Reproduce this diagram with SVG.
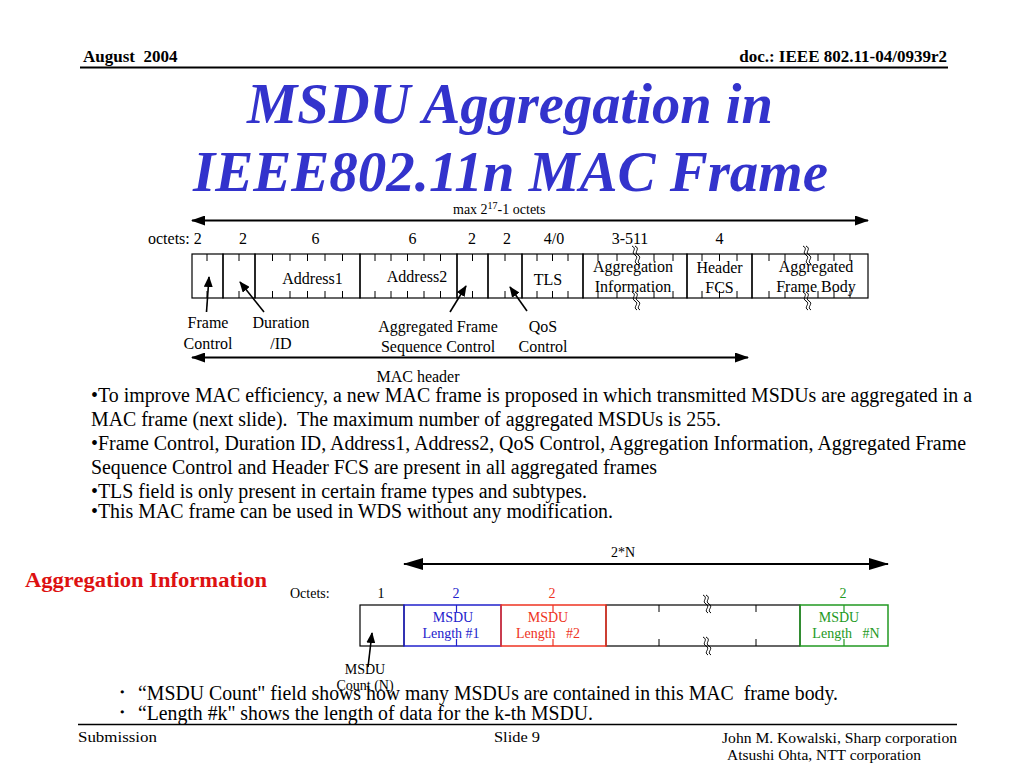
<svg xmlns="http://www.w3.org/2000/svg" xmlns:xlink="http://www.w3.org/1999/xlink" width="1024" height="768" viewBox="0 0 1024 768">
<style>
text{font-family:"Liberation Serif","Times New Roman",serif;fill:#000}
.hdr{font-size:17px;font-weight:bold}
.title{font-size:57px;font-weight:bold;font-style:italic;fill:#3333CC}
.body{font-size:20px}
.lbl{font-size:16px}
.sm{font-size:14px}
.foot{font-size:14px}
.mid{text-anchor:middle}
.box{fill:none;stroke:#000;stroke-width:1.2}
.tick{stroke:#000;stroke-width:1}
.conn{stroke:#000;stroke-width:2;fill:none}
.conn1{stroke:#000;stroke-width:1.6;fill:none}
.blue{fill:#2222CC}
.red{fill:#EE3322}
.green{fill:#229922}
.brk{fill:none;stroke:#000;stroke-width:1}
</style>
<defs>
<marker id="ah" markerWidth="14" markerHeight="10" refX="13" refY="5" orient="auto-start-reverse" markerUnits="userSpaceOnUse">
<path d="M0,0 L14,5 L0,10 Z" fill="#000"/>
</marker>
<marker id="ahs" markerWidth="11" markerHeight="9" refX="10" refY="4.5" orient="auto" markerUnits="userSpaceOnUse">
<path d="M0,0 L11,4.5 L0,9 Z" fill="#000"/>
</marker>
<marker id="ahb" markerWidth="20" markerHeight="12" refX="19" refY="6" orient="auto-start-reverse" markerUnits="userSpaceOnUse">
<path d="M0,0 L20,6 L0,12 Z" fill="#000"/>
</marker>
<g id="brk">
<path class="brk" d="M-3,-9 C3,-6 -5,-3 0,0 C5,3 -3,6 2,9"/>
<path class="brk" d="M0,-9 C6,-6 -2,-3 3,0 C8,3 0,6 5,9"/>
</g>
</defs>

<g id="header">
<text class="hdr" x="83" y="62" xml:space="preserve">August  2004</text>
<text class="hdr" x="947" y="62" text-anchor="end">doc.: IEEE 802.11-04/0939r2</text>
<line x1="80" y1="67.5" x2="948" y2="67.5" stroke="#000" stroke-width="2"/>
</g>

<g id="title">
<text class="title" x="247" y="123" textLength="526" lengthAdjust="spacingAndGlyphs">MSDU Aggregation in</text>
<text class="title" x="193" y="191" textLength="635" lengthAdjust="spacingAndGlyphs">IEEE802.11n MAC Frame</text>
</g>

<g id="connectors">
<line class="conn" x1="192" y1="220.5" x2="868" y2="220.5" marker-start="url(#ah)" marker-end="url(#ah)"/>
<line class="conn" x1="192" y1="357.5" x2="748" y2="357.5" marker-start="url(#ah)" marker-end="url(#ah)"/>
<line class="conn1" x1="206.5" y1="312" x2="209" y2="277" marker-end="url(#ahs)"/>
<line class="conn1" x1="264" y1="312" x2="240" y2="282" marker-end="url(#ahs)"/>
<line class="conn1" x1="450" y1="312" x2="466" y2="286" marker-end="url(#ahs)"/>
<line class="conn1" x1="527" y1="311" x2="510" y2="287" marker-end="url(#ahs)"/>
<line class="conn" x1="404" y1="564" x2="888" y2="564" marker-start="url(#ahb)" marker-end="url(#ahb)"/>
<line class="conn1" x1="368" y1="667" x2="372" y2="633" marker-end="url(#ahs)"/>
</g>

<g id="frame-labels">
<text class="sm" x="453" y="214">max 2<tspan font-size="10" dy="-5">17</tspan><tspan dy="5">-1 octets</tspan></text>
<text class="lbl" x="148" y="244">octets: 2</text>
<text class="lbl mid" x="243" y="244">2</text>
<text class="lbl mid" x="315.5" y="244">6</text>
<text class="lbl mid" x="412.5" y="244">6</text>
<text class="lbl mid" x="472" y="244">2</text>
<text class="lbl mid" x="507" y="244">2</text>
<text class="lbl mid" x="554" y="244">4/0</text>
<text class="lbl mid" x="630" y="244">3-511</text>
<text class="lbl mid" x="719.5" y="244">4</text>
</g>

<g id="node-frame-control"><rect class="box" x="192" y="254" width="31" height="44"/></g>
<g id="node-duration"><rect class="box" x="223" y="254" width="32" height="44"/></g>
<g id="node-address1"><rect class="box" x="255" y="254" width="105" height="44"/>
<text class="lbl mid" x="312.5" y="284">Address1</text></g>
<g id="node-address2"><rect class="box" x="360" y="254" width="97" height="44"/>
<text class="lbl mid" x="417" y="282">Address2</text></g>
<g id="node-afsc"><rect class="box" x="457" y="254" width="31" height="44"/></g>
<g id="node-qos"><rect class="box" x="488" y="254" width="34" height="44"/></g>
<g id="node-tls"><rect class="box" x="522" y="254" width="61" height="44"/>
<text class="lbl mid" x="548" y="285">TLS</text></g>
<g id="node-agginfo"><rect class="box" x="583" y="254" width="104" height="44"/>
<text class="lbl mid" x="633" y="272">Aggregation</text>
<text class="lbl mid" x="633" y="292">Information</text></g>
<g id="node-hfcs"><rect class="box" x="687" y="254" width="65" height="44"/>
<text class="lbl mid" x="719.5" y="273">Header</text>
<text class="lbl mid" x="719.5" y="293">FCS</text></g>
<g id="node-body"><rect class="box" x="752" y="254" width="116" height="44"/>
<text class="lbl mid" x="816" y="272">Aggregated</text>
<text class="lbl mid" x="816" y="292">Frame Body</text></g>

<g id="frame-ticks">
<path class="tick" d="M207,254v7M207,298v-7M239,254v7M239,298v-7
M272.5,254v7M272.5,298v-7M290,254v7M290,298v-7M307.5,254v7M307.5,298v-7M325,254v7M325,298v-7M342.5,254v7M342.5,298v-7
M375,254v7M375,298v-7M391,254v7M391,298v-7M407.5,254v7M407.5,298v-7M424,254v7M424,298v-7M440.5,254v7M440.5,298v-7
M472.5,254v7M472.5,298v-7M505,254v7M505,298v-7
M537,254v7M537,298v-7M552.5,254v7M552.5,298v-7M568,254v7M568,298v-7
M598,254v7M598,298v-7M617,254v7M617,298v-7M654,254v7M654,298v-7M673,254v7M673,298v-7
M702,254v7M702,298v-7M719.5,254v7M719.5,298v-7M737,254v7M737,298v-7
M769,254v7M769,298v-7M785,254v7M785,298v-7M818,254v7M818,298v-7M834,254v7M834,298v-7M850,254v7M850,298v-7"/>
<use xlink:href="#brk" href="#brk" x="635" y="255"/>
<use xlink:href="#brk" href="#brk" x="635" y="301"/>
<use xlink:href="#brk" href="#brk" x="806" y="255"/>
<use xlink:href="#brk" href="#brk" x="806" y="301"/>
</g>

<g id="field-captions">
<text class="lbl mid" x="208" y="328">Frame</text>
<text class="lbl mid" x="208" y="349">Control</text>
<text class="lbl mid" x="281" y="328">Duration</text>
<text class="lbl mid" x="281" y="349">/ID</text>
<text class="lbl mid" x="438" y="332">Aggregated Frame</text>
<text class="lbl mid" x="438" y="352">Sequence Control</text>
<text class="lbl mid" x="543" y="332">QoS</text>
<text class="lbl mid" x="543" y="352">Control</text>
<text class="lbl mid" x="418" y="382">MAC header</text>
</g>

<g id="body-text">
<text class="body" x="91" y="402" textLength="881" lengthAdjust="spacingAndGlyphs">•To improve MAC efficiency, a new MAC frame is proposed in which transmitted MSDUs are aggregated in a</text>
<text class="body" x="91" y="426" textLength="630" lengthAdjust="spacingAndGlyphs" xml:space="preserve">MAC frame (next slide).  The maximum number of aggregated MSDUs is 255.</text>
<text class="body" x="91" y="450" textLength="875" lengthAdjust="spacingAndGlyphs">•Frame Control, Duration ID, Address1, Address2, QoS Control, Aggregation Information, Aggregated Frame</text>
<text class="body" x="91" y="474" textLength="566" lengthAdjust="spacingAndGlyphs">Sequence Control and Header FCS are present in all aggregated frames</text>
<text class="body" x="91" y="498" textLength="496" lengthAdjust="spacingAndGlyphs">•TLS field is only present in certain frame types and subtypes.</text>
<text class="body" x="91" y="518" textLength="522" lengthAdjust="spacingAndGlyphs">•This MAC frame can be used in WDS without any modification.</text>
</g>

<g id="agg-title">
<text x="25" y="587" font-size="20" font-weight="bold" style="fill:#DD1111" textLength="242" lengthAdjust="spacingAndGlyphs">Aggregation Information</text>
</g>
<g id="agg-labels">
<text class="sm mid" x="623" y="557">2*N</text>
<text class="sm" x="290" y="598">Octets:</text>
<text class="sm mid" x="381" y="598">1</text>
<text class="sm mid blue" x="456" y="598">2</text>
<text class="sm mid red" x="552" y="598">2</text>
<text class="sm mid green" x="843" y="598">2</text>
</g>
<g id="node-msdu-count">
<rect class="box" x="360" y="605" width="44" height="41"/>
<text class="sm mid" x="365" y="674">MSDU</text>
<text class="sm mid" x="365" y="690">Count (N)</text>
</g>
<g id="node-middle">
<rect class="box" x="606" y="605" width="194" height="41"/>
<path class="tick" d="M659,605v7M659,646v-7M756,605v7M756,646v-7"/>
<use xlink:href="#brk" href="#brk" x="706" y="604"/>
<use xlink:href="#brk" href="#brk" x="706" y="646"/>
</g>
<g id="node-len1">
<rect x="404" y="605" width="97" height="41" fill="none" stroke="#2222CC" stroke-width="1.5"/>
<path d="M456.5,605v7M456.5,646v-7" stroke="#2222CC" stroke-width="1.2"/>
<text class="sm mid blue" x="453" y="622">MSDU</text>
<text class="sm mid blue" x="451" y="638">Length #1</text>
</g>
<g id="node-len2">
<rect x="501" y="605" width="105" height="41" fill="none" stroke="#EE3322" stroke-width="1.5"/>
<path d="M553,605v7M553,646v-7" stroke="#EE3322" stroke-width="1.2"/>
<text class="sm mid red" x="548" y="622">MSDU</text>
<text class="sm mid red" x="548" y="638" xml:space="preserve">Length   #2</text>
</g>
<g id="node-lenN">
<rect x="800" y="605" width="88" height="41" fill="none" stroke="#229922" stroke-width="1.5"/>
<path d="M844,605v7M844,646v-7" stroke="#229922" stroke-width="1.2"/>
<text class="sm mid green" x="839" y="622">MSDU</text>
<text class="sm mid green" x="846" y="638" xml:space="preserve">Length   #N</text>
</g>

<g id="bottom-bullets">
<text class="body" x="112" y="699">・</text>
<text class="body" x="138" y="700" textLength="700" lengthAdjust="spacingAndGlyphs" xml:space="preserve">“MSDU Count" field shows how many MSDUs are contained in this MAC  frame body.</text>
<text class="body" x="112" y="719">・</text>
<text class="body" x="138" y="720" textLength="455" lengthAdjust="spacingAndGlyphs">“Length #k" shows the length of data for the k-th MSDU.</text>
</g>

<g id="footer">
<line x1="78" y1="724.5" x2="957" y2="724.5" stroke="#000" stroke-width="1.5"/>
<text class="foot" x="78" y="742" textLength="79" lengthAdjust="spacingAndGlyphs">Submission</text>
<text class="foot" x="494" y="742" textLength="46" lengthAdjust="spacingAndGlyphs">Slide 9</text>
<text class="foot" x="722" y="743" textLength="235" lengthAdjust="spacingAndGlyphs">John M. Kowalski, Sharp corporation</text>
<text class="foot" x="727" y="760" textLength="194" lengthAdjust="spacingAndGlyphs">Atsushi Ohta, NTT corporation</text>
</g>
</svg>
